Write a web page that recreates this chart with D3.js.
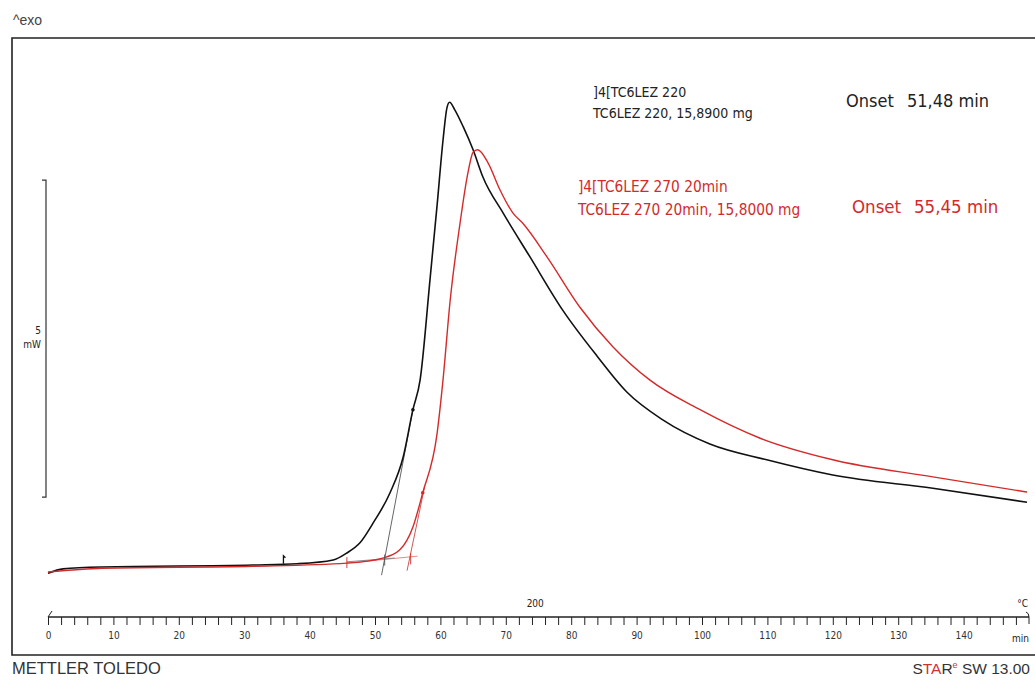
<!DOCTYPE html>
<html>
<head>
<meta charset="utf-8">
<script src="https://cdn.jsdelivr.net/npm/d3@7"></script>
<style>
  body { margin: 0; background: #fff; }
  svg { display: block; }
  text { fill: #222; }
</style>
</head>
<body>
<svg id="drawing_region"></svg>
<script>
// time in min, heat flow in mW
const blackT  = [0, 2.3, 8.3, 31.3, 38.1, 43.6, 45.7, 47.7, 49.7, 52.3, 54.3, 55.8, 56.9, 58.4, 59.5, 60.4, 61.0, 61.4, 62.2, 63.5, 65.0, 66.5, 69.6, 73.7, 78.7, 84.0, 88.5, 94.0, 101.2, 109.9, 120.0, 135.3, 149.7];
const blackMW = [-0.02, 0.05, 0.08, 0.11, 0.13, 0.19, 0.30, 0.46, 0.77, 1.25, 1.81, 2.56, 3.03, 4.60, 5.79, 6.81, 7.32, 7.41, 7.29, 7.02, 6.66, 6.23, 5.66, 4.97, 4.13, 3.40, 2.84, 2.40, 2.02, 1.77, 1.53, 1.32, 1.10];

const redT  = [0, 8.3, 31.3, 45.7, 51.2, 53.8, 55.8, 57.3, 59.5, 60.4, 61.5, 63.0, 64.2, 65.0, 65.7, 67.3, 69.1, 71.1, 72.6, 76.3, 81.3, 86.4, 92.0, 99.7, 108.9, 120.0, 135.3, 149.7];
const redMW = [0.0, 0.06, 0.09, 0.14, 0.22, 0.35, 0.71, 1.25, 2.19, 3.03, 4.29, 5.50, 6.29, 6.62, 6.66, 6.45, 6.03, 5.66, 5.50, 4.97, 4.18, 3.55, 3.03, 2.56, 2.11, 1.77, 1.50, 1.26];

// onset tangents and baselines
const blackTangentT  = [51.0, 55.8];
const blackTangentMW = [-0.05, 2.56];
const redTangentT  = [54.9, 57.6];
const redTangentMW = [0.02, 1.35];
const redBaseT  = [45.7, 56.5];
const redBaseMW = [0.14, 0.25];
const blackBaseT  = [45.7, 53.0];
const blackBaseMW = [0.16, 0.22];

const xTickLabels = [0, 10, 20, 30, 40, 50, 60, 70, 80, 90, 100, 110, 120, 130, 140];
const scaleBarMW = [1.18, 6.18];

const legendBlack = [']4[TC6LEZ 220', 'TC6LEZ 220, 15,8900 mg'];
const legendRed = [']4[TC6LEZ 270 20min', 'TC6LEZ 270 20min, 15,8000 mg'];
const onsetBlack = ['Onset', '51,48 min'];
const onsetRed = ['Onset', '55,45 min'];

const width = 1035, height = 681;
const black = '#111', red = '#d42a2a';

const svg = d3.select('#drawing_region')
    .attr('width', width)
    .attr('height', height);

const xscale = d3.scaleLinear().domain([0, 150]).range([48, 1029]);
const yscale = d3.scaleLinear().domain([0, 5]).range([572, 255]);

// frame
svg.append('path')
    .attr('d', 'M1036,38 H12 V655 H1036')
    .attr('fill', 'none')
    .attr('stroke', '#222')
    .attr('stroke-width', 1.6);

svg.append('text')
    .attr('x', 13).attr('y', 25)
    .style('font-family', 'Liberation Sans, Arial, sans-serif')
    .style('font-size', '14px')
    .style('fill', '#444')
    .text('^exo');

// scale bar 5 mW
const sb = svg.append('g').attr('stroke', '#333').attr('stroke-width', 1.2).attr('fill', 'none');
sb.append('path')
    .attr('d', `M42,${yscale(scaleBarMW[1])} H46 V${yscale(scaleBarMW[0])} H42`);
svg.append('text')
    .attr('x', 41).attr('y', 334)
    .attr('text-anchor', 'end')
    .style('font-family', 'DejaVu Sans Condensed, sans-serif')
    .style('font-size', '10px')
    .text('5');
svg.append('text')
    .attr('x', 41).attr('y', 348)
    .attr('text-anchor', 'end')
    .style('font-family', 'DejaVu Sans Condensed, sans-serif')
    .style('font-size', '10px')
    .text('mW');

// time axis
const axisY = 617;
const xaxis = d3.axisBottom(xscale)
    .tickValues(d3.range(0, 151, 2))
    .tickSize(8)
    .tickFormat(d => xTickLabels.includes(d) ? d : '');
const axis_group = svg.append('g')
    .attr('transform', `translate(0, ${axisY})`)
    .call(xaxis);
axis_group.select('.domain').remove();
axis_group.selectAll('line').attr('stroke', '#222').attr('stroke-width', 1);
axis_group.selectAll('text')
    .attr('y', 15)
    .style('font-family', 'DejaVu Sans Condensed, sans-serif')
    .style('font-size', '10px')
    .style('fill', '#333');
axis_group.selectAll('.tick').filter(d => d === 150).remove();
svg.append('line')
    .attr('x1', xscale(0)).attr('x2', xscale(150))
    .attr('y1', axisY).attr('y2', axisY)
    .attr('stroke', '#222').attr('stroke-width', 1.4);
svg.append('path')
    .attr('d', `M${xscale(0)},${axisY} L${xscale(0) + 4},${axisY - 6}`)
    .attr('stroke', '#222').attr('fill', 'none');
svg.append('path')
    .attr('d', `M${xscale(150) - 3},${axisY - 5} Q${xscale(150)},${axisY - 4} ${xscale(150)},${axisY} V${axisY + 7}`)
    .attr('stroke', '#222').attr('fill', 'none');

const axisFont = 'DejaVu Sans Condensed, sans-serif';
svg.append('text').attr('x', xscale(74.5)).attr('y', 607).attr('text-anchor', 'middle')
    .style('font-family', axisFont).style('font-size', '10px').text('200');
svg.append('text').attr('x', 1028).attr('y', 607).attr('text-anchor', 'end')
    .style('font-family', axisFont).style('font-size', '10px').text('°C');
svg.append('text').attr('x', 1029).attr('y', 642).attr('text-anchor', 'end')
    .style('font-family', axisFont).style('font-size', '10px').text('min');

// curves
const line = d3.line()
    .x(d => xscale(d[0]))
    .y(d => yscale(d[1]))
    .curve(d3.curveMonotoneX);
const straight = d3.line()
    .x(d => xscale(d[0]))
    .y(d => yscale(d[1]));

const pairs = (ts, vs) => ts.map((t, i) => [t, vs[i]]);

svg.append('path')
    .datum(pairs(redBaseT, redBaseMW))
    .attr('d', straight)
    .attr('fill', 'none').attr('stroke', '#e88').attr('stroke-width', 1);
svg.append('path')
    .datum(pairs(blackBaseT, blackBaseMW))
    .attr('d', straight)
    .attr('fill', 'none').attr('stroke', '#888').attr('stroke-width', 1);
svg.append('path')
    .datum(pairs(blackTangentT, blackTangentMW))
    .attr('d', straight)
    .attr('fill', 'none').attr('stroke', '#555').attr('stroke-width', 0.9);
svg.append('path')
    .datum(pairs(redTangentT, redTangentMW))
    .attr('d', straight)
    .attr('fill', 'none').attr('stroke', '#c44').attr('stroke-width', 0.9);

svg.append('path')
    .datum(pairs(blackT, blackMW))
    .attr('d', line)
    .attr('fill', 'none').attr('stroke', black).attr('stroke-width', 1.6);
svg.append('path')
    .datum(pairs(redT, redMW))
    .attr('d', line)
    .attr('fill', 'none').attr('stroke', red).attr('stroke-width', 1.4);

// integration limit marks
const marks = [[45.7, 0.14, red], [51.48, 0.18, '#555'], [55.45, 0.2, red]];
svg.selectAll('.limit')
    .data(marks)
    .enter()
    .append('line')
    .attr('x1', d => xscale(d[0])).attr('x2', d => xscale(d[0]))
    .attr('y1', d => yscale(d[1]) - 6).attr('y2', d => yscale(d[1]) + 5)
    .attr('stroke', d => d[2]).attr('stroke-width', 0.9);

// small evaluation markers
svg.append('path')
    .attr('d', `M${xscale(36.0)},${yscale(0.13)} V${yscale(0.13) - 8} l2,2`)
    .attr('stroke', black).attr('fill', 'none').attr('stroke-width', 1.3);
svg.append('circle')
    .attr('cx', xscale(55.8)).attr('cy', yscale(2.56)).attr('r', 1.8).attr('fill', black);
svg.append('circle')
    .attr('cx', xscale(57.3)).attr('cy', yscale(1.25)).attr('r', 1.8).attr('fill', red);

// legends
const legendFont = 'DejaVu Sans Condensed, sans-serif';
svg.selectAll('.legBlack')
    .data(legendBlack)
    .enter()
    .append('text')
    .attr('x', 593).attr('y', (d, i) => 97 + i * 21)
    .style('font-family', legendFont).style('font-size', '14px')
    .style('fill', '#222')
    .text(d => d);
svg.selectAll('.legRed')
    .data(legendRed)
    .enter()
    .append('text')
    .attr('x', 578).attr('y', (d, i) => 192 + i * 23)
    .style('font-family', legendFont).style('font-size', '15.3px')
    .style('fill', red)
    .text(d => d);

const onsetFont = 'DejaVu Sans Condensed, sans-serif';
svg.append('text').attr('x', 846).attr('y', 107)
    .style('font-family', onsetFont).style('font-size', '18px').style('fill', '#222')
    .text(onsetBlack[0]);
svg.append('text').attr('x', 907).attr('y', 107)
    .style('font-family', onsetFont).style('font-size', '18px').style('fill', '#222')
    .text(onsetBlack[1]);
svg.append('text').attr('x', 852).attr('y', 213)
    .style('font-family', onsetFont).style('font-size', '18.5px').style('fill', red)
    .text(onsetRed[0]);
svg.append('text').attr('x', 914).attr('y', 213)
    .style('font-family', onsetFont).style('font-size', '18.5px').style('fill', red)
    .text(onsetRed[1]);

// footer
svg.append('text')
    .attr('x', 12).attr('y', 674)
    .style('font-family', 'Liberation Sans, Arial, sans-serif')
    .style('font-size', '16.5px')
    .style('fill', '#333')
    .text('METTLER TOLEDO');
const star = svg.append('text')
    .attr('x', 1030).attr('y', 674)
    .attr('text-anchor', 'end')
    .style('font-family', 'Liberation Sans, Arial, sans-serif')
    .style('font-size', '15.5px')
    .style('fill', '#333');
star.append('tspan').text('S');
star.append('tspan').style('fill', '#c33').text('TA');
star.append('tspan').text('R');
star.append('tspan').attr('dy', -6).style('font-size', '9px').style('fill', '#c33').text('e');
star.append('tspan').attr('dy', 6).text(' SW 13.00');
</script>
</body>
</html>
